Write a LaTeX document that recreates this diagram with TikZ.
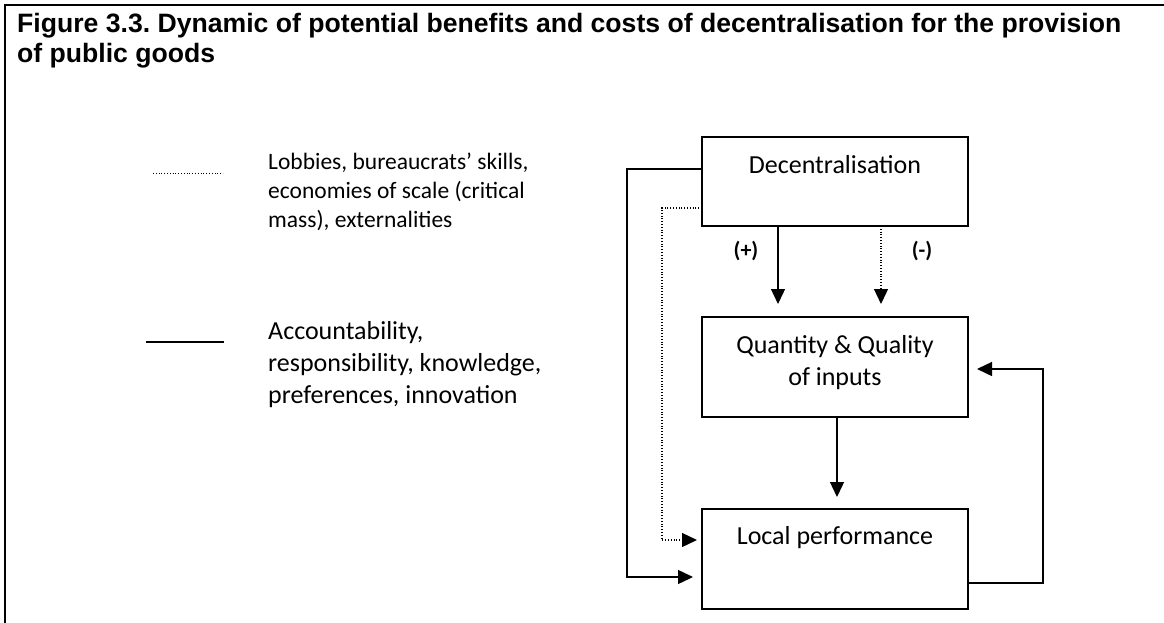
\documentclass[tikz,border=0pt]{standalone}
\usepackage{fontspec}
\setmainfont{Carlito}
\newfontfamily\titlefont{Liberation Sans}
\usetikzlibrary{arrows.meta}
\frenchspacing
\begin{document}
\begin{tikzpicture}[x=1pt,y=-1pt,
  box/.style={draw,line width=1.8pt,inner sep=0pt,outer sep=0pt},
  conn/.style={line width=1.4pt},
  dotconn/.style={line width=1.3pt,dash pattern=on 1pt off 1.8pt},
  arr/.style={-{Triangle[length=15pt,width=14pt]}},
  boxtext/.style={font=\fontsize{26}{32}\selectfont,align=center,inner sep=0pt,anchor=base},
  sign/.style={font=\fontsize{22}{26}\selectfont\bfseries,inner sep=0pt}]
\useasboundingbox (0,0) rectangle (1164,623);
\fill[white] (0,0) rectangle (1164,623);
% outer frame (top and left edges)
\draw[line width=2pt] (5,623) -- (5,5) -- (1164,5);
% title (anchored on the baseline of its last line)
\node[anchor=base west,inner sep=0pt,align=left,
      font=\titlefont\bfseries\fontsize{26.6}{29.5}\selectfont] (title) at (17,62.5)
  {Figure 3.3. Dynamic of potential benefits and costs of decentralisation for the provision\\of public goods};
% legend
\coordinate (ldA) at (153,173);
\coordinate (ldB) at (223,173);
\draw[dotconn,line width=1pt] (ldA) -- (ldB);
\node[anchor=base west,inner sep=0pt,align=left,font=\fontsize{23.5}{29}\selectfont] (leg1) at (268,227)
  {Lobbies, bureaucrats’ skills,\\economies of scale (critical\\mass), externalities};
\coordinate (lsA) at (146,342);
\coordinate (lsB) at (224,342);
\draw[conn] (lsA) -- (lsB);
\node[anchor=base west,inner sep=0pt,align=left,font=\fontsize{26}{32}\selectfont] (leg2) at (268,403)
  {Accountability,\\responsibility, knowledge,\\preferences, innovation};
% boxes
\node[box,minimum width=266pt,minimum height=89pt] (dec) at (835,181.5) {};
\node[box,minimum width=266pt,minimum height=100pt] (qty) at (835,367) {};
\node[box,minimum width=266pt,minimum height=100pt] (loc) at (835,559) {};
\node[boxtext] (dect) at (835,173) {Decentralisation};
\node[boxtext] (qtyt) at (835,385) {Quantity \& Quality\\of inputs};
\node[boxtext] (loct) at (835,544) {Local performance};
% arrows from decentralisation to inputs
\coordinate (px) at (778,0);
\coordinate (mx) at (881,0);
\coordinate (cx) at (837,0);
\draw[conn,arr] (dec.south -| px) -- ++(0,78);
\draw[dotconn,arr] (dec.south -| mx) -- ++(0,78);
\node[sign] (plus) at (746,251) {(+)};
\node[sign] (minus) at (922,251) {(-)};
% inputs to performance
\draw[conn,arr] (qty.south -| cx) -- ++(0,80);
% feedback loop
\draw[conn,arr] ([yshift=-24pt]loc.east) -- ++(75,0) |- ([xshift=9pt,yshift=-2pt]qty.east);
% direct links from decentralisation to performance
\draw[conn,arr] ([yshift=12.5pt]dec.west) -- ++(-75,0) |- ([xshift=-9pt,yshift=-18pt]loc.west);
\draw[dotconn,arr] ([yshift=-26.5pt]dec.west) -- ++(-40,0) |- ([xshift=-5pt,yshift=19pt]loc.west);
\end{tikzpicture}
\end{document}
